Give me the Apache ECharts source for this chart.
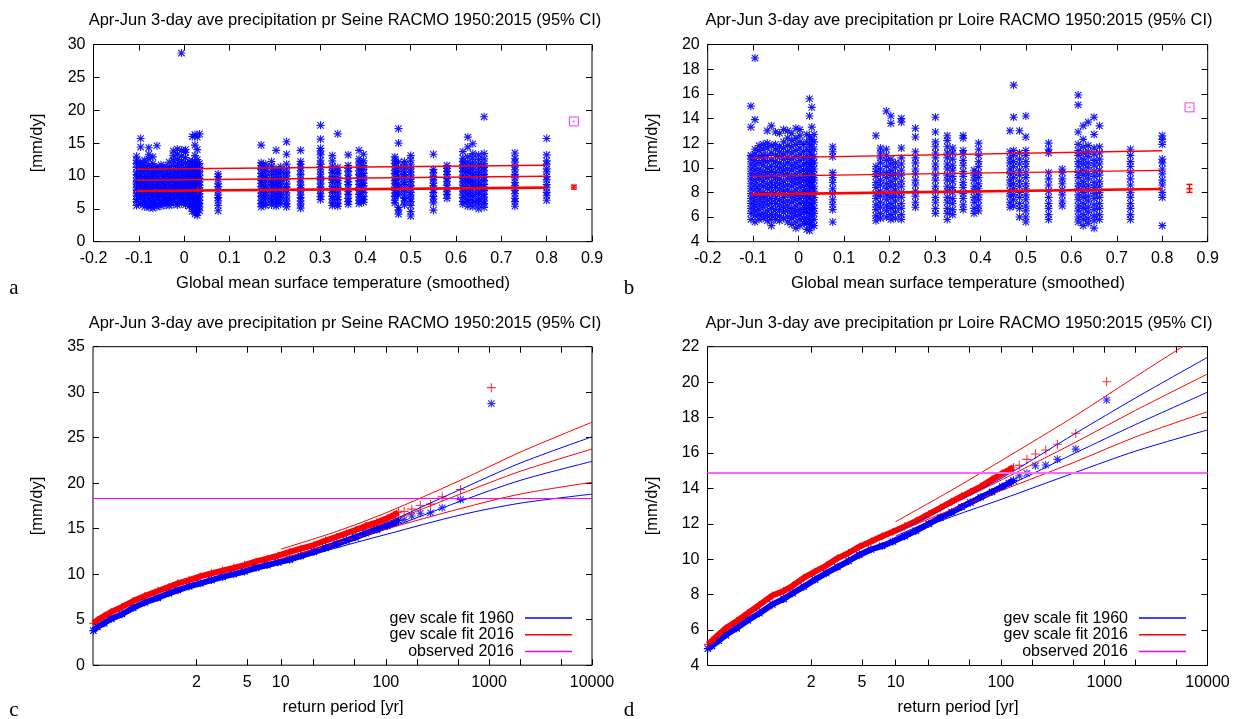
<!DOCTYPE html>
<html><head><meta charset="utf-8">
<script src="https://cdn.jsdelivr.net/npm/echarts@6/dist/echarts.min.js"></script>
<style>html,body{margin:0;padding:0;background:#fff}#chart{width:1233px;height:719px}</style>
</head><body><div id="chart"></div><script>
// ---------- DATA ----------
const titleSeine = 'Apr-Jun 3-day ave precipitation pr Seine RACMO 1950:2015 (95% CI)';
const titleLoire = 'Apr-Jun 3-day ave precipitation pr Loire RACMO 1950:2015 (95% CI)';
// Panel a/b: smoothed GMST of each year (x) and the ensemble values (y)
const gmst = [-0.105,-0.096,-0.087,-0.078,-0.069,-0.060,-0.051,-0.042,-0.033,-0.024,-0.015,-0.006,0.003,0.011,0.018,0.024,0.029,0.034,0.075,0.170,0.180,0.193,0.203,0.213,0.226,0.257,0.301,0.327,0.339,0.362,0.386,0.396,0.465,0.473,0.486,0.500,0.550,0.580,0.615,0.626,0.637,0.650,0.662,0.730,0.800];
const seineVals = [
[5.5,6.1,6.4,7.0,7.3,7.9,8.2,8.8,9.1,9.7,10.2,10.6,11.3,11.9,12.4,13.0],
[5.7,6.0,6.7,7.1,7.6,8.0,8.5,8.9,9.4,9.9,10.3,10.9,11.5,12.1,14.4,15.7],
[5.3,5.9,6.3,6.9,7.4,7.7,8.3,8.6,9.2,9.6,10.1,10.8,11.2,11.8,12.4],
[5.2,5.6,6.2,6.6,7.2,7.5,8.1,8.4,9.0,9.5,9.8,10.4,11.0,11.6,12.6,13.3,14.3],
[5.1,5.6,6.0,6.5,7.0,7.4,7.9,8.3,8.7,9.3,9.8,10.2,10.7,11.3,11.9,12.9],
[5.3,5.8,6.4,6.8,7.2,7.7,8.2,8.6,9.0,9.5,10.0,10.5,11.1,11.4,14.6],
[5.4,5.9,6.3,6.9,7.3,7.8,8.0,8.5,9.1,9.4,10.1,10.6,11.2,11.7],
[5.6,6.1,6.6,7.0,7.5,7.9,8.4,8.8,9.3,9.7,10.2,10.8,11.5],
[5.5,6.0,6.4,6.8,7.3,7.6,8.1,8.7,9.0,9.6,10.0,10.4,11.0,11.4,12.1],
[5.7,6.2,6.5,7.1,7.6,8.0,8.4,8.9,9.3,9.8,10.3,10.9,11.6,12.4,13.1,13.8],
[5.6,6.0,6.6,7.0,7.4,7.9,8.3,8.8,9.2,9.6,10.1,10.6,11.2,11.8,12.5,13.3,14.1],
[5.8,6.3,6.7,7.2,7.6,8.1,8.6,9.0,9.4,9.9,10.5,11.0,11.7,12.3,13.0,13.9,28.7],
[5.6,6.1,6.5,7.0,7.5,7.8,8.3,8.7,9.2,9.7,10.1,10.7,11.3,12.0,12.8,13.6,14.0],
[5.4,5.9,6.3,6.8,7.2,7.7,8.1,8.6,9.0,9.5,10.0,10.5,11.1,11.7,12.2],
[4.6,5.2,5.7,6.2,6.7,7.1,7.6,8.0,8.5,9.0,9.4,9.9,10.4,11.0,11.6,12.3,16.0],
[4.2,4.8,5.4,5.9,6.4,6.9,7.3,7.8,8.2,8.7,9.2,9.6,10.2,10.8,11.4,12.0,13.1,14.7,16.3],
[4.0,4.5,5.1,5.6,6.1,6.6,7.0,7.4,7.9,8.4,8.8,9.3,9.8,10.4,11.1,11.8,12.5,14.0,15.9],
[4.7,5.3,5.8,6.3,6.8,7.3,7.7,8.2,8.6,9.1,9.6,10.1,10.7,11.3,11.9,16.4],
[4.7,5.5,6.2,6.7,7.1,7.8,8.4,8.8,9.5,9.9,10.3],
[5.3,5.8,6.3,6.9,7.4,7.8,8.4,8.9,9.3,9.9,10.4,11.0,11.6,12.0,14.7],
[5.5,6.0,6.6,7.1,7.5,8.1,8.6,9.2,9.7,10.1,10.7,11.2,11.8],
[5.6,6.1,6.5,7.0,7.6,8.2,8.7,9.1,9.6,10.2,10.8,11.5,12.2],
[5.4,5.9,6.4,6.8,7.3,7.9,8.5,8.9,9.4,10.0,10.6,11.1,13.9],
[5.7,6.2,6.7,7.2,7.7,8.3,8.8,9.3,9.8,10.4,10.9,11.4],
[5.3,5.8,6.2,6.8,7.4,7.9,8.3,8.8,9.5,10.0,10.5,11.1,11.8,13.3,15.2],
[5.1,5.7,6.2,6.7,7.1,7.7,8.2,8.6,9.2,9.6,10.2,10.8,11.3,11.8,12.2,13.9],
[6.4,6.9,7.3,7.9,8.3,8.8,9.4,9.8,10.3,10.9,11.4,11.8,12.4,13.2,13.8,14.2,15.6,17.7],
[5.5,5.9,6.5,6.9,7.5,7.9,8.4,9.0,9.4,9.9,10.5,10.9,11.5,12.3,13.1],
[5.4,5.8,6.4,6.8,7.3,7.9,8.3,8.9,9.3,9.8,10.4,10.8,11.3,16.4],
[5.7,6.1,6.6,7.2,7.6,8.1,8.7,9.1,9.6,10.1,10.7,11.2,11.6,13.2],
[5.8,6.3,6.8,7.2,7.8,8.2,8.7,9.3,9.7,10.2,10.8,11.3,12.0,12.6,13.9],
[6.0,6.4,6.9,7.5,7.9,8.5,8.9,9.4,10.0,10.4,11.0,11.6,12.3,13.3],
[5.9,6.3,6.9,7.4,7.8,8.3,8.9,9.3,9.8,10.4,10.8,11.4,11.9,12.4,12.9],
[4.2,4.8,5.2,7.1,7.6,8.3,8.8,9.5,10.0,10.7,11.3,12.1,15.0,17.2],
[5.6,6.2,6.6,7.1,7.7,8.1,8.7,9.1,9.7,10.2,10.6,11.2,11.7,12.2],
[3.9,4.6,5.5,6.1,6.5,7.1,7.5,8.1,8.5,9.1,9.5,10.1,10.6,11.1,11.7,12.4,13.1],
[4.8,5.9,6.5,6.9,7.5,7.9,8.5,8.9,9.5,9.9,10.5,11.0,13.3],
[6.6,7.2,7.6,8.2,8.6,9.2,9.6,10.2,10.7,11.2,11.6],
[5.7,6.1,6.7,7.1,7.7,8.1,8.6,9.2,9.6,10.1,10.7,11.2,11.7,12.2,12.7,13.7],
[5.4,6.0,6.4,7.0,7.4,8.0,8.4,9.0,9.4,9.9,10.5,10.9,11.5,12.1,12.9,14.4,15.9],
[5.3,5.9,6.3,6.9,7.3,7.9,8.4,8.8,9.3,9.9,10.3,10.9,11.4,12.0,12.7,13.4,14.9],
[5.0,5.6,6.1,6.6,7.2,7.6,8.2,8.6,9.1,9.7,10.2,10.6,11.2,11.8,12.5,13.2],
[5.2,5.8,6.2,6.8,7.2,7.8,8.3,8.7,9.3,9.8,10.2,10.8,11.3,11.9,12.6,13.4,19.0],
[5.4,6.1,6.6,7.3,7.8,8.5,9.0,9.7,10.2,10.9,11.4,12.1,12.7,13.5],
[6.3,7.0,7.5,8.2,8.7,9.4,9.9,10.6,11.1,11.8,12.3,13.2,15.7]];
const loireVals = [
[5.8,6.3,6.7,7.1,7.5,7.9,8.3,8.7,9.1,9.5,9.9,10.3,10.7,11.0,13.3,15.0],
[5.6,6.1,6.5,6.9,7.3,7.7,8.2,8.6,9.0,9.4,9.8,10.2,10.6,11.1,11.5,13.9,18.9],
[5.8,6.2,6.6,7.0,7.4,7.8,8.2,8.6,9.1,9.5,9.9,10.4,10.9,11.4,11.8],
[5.9,6.3,6.8,7.2,7.6,8.0,8.5,8.9,9.3,9.7,10.2,10.6,11.0,11.5,11.9],
[5.7,6.1,6.5,7.0,7.4,7.8,8.3,8.7,9.2,9.6,10.0,10.5,11.0,11.6,12.0,13.0],
[5.3,5.8,6.2,6.7,7.1,7.5,8.0,8.4,8.8,9.3,9.7,10.1,10.6,11.2,11.8,13.4],
[5.8,6.2,6.6,7.1,7.5,7.9,8.4,8.8,9.2,9.6,10.1,10.5,11.0,11.5,11.9,12.9],
[5.7,6.1,6.6,7.0,7.4,7.9,8.3,8.7,9.1,9.6,10.0,10.4,10.9,11.3,11.7,12.8],
[5.9,6.4,6.8,7.2,7.6,8.1,8.5,8.9,9.4,9.8,10.2,10.7,11.1,11.6,12.1,13.1],
[5.6,6.0,6.5,6.9,7.3,7.8,8.2,8.6,9.1,9.5,9.9,10.4,10.8,11.3,11.8,12.4,13.0],
[5.4,5.9,6.3,6.7,7.2,7.6,8.0,8.5,8.9,9.3,9.8,10.2,10.7,11.2,11.7,12.2,12.8],
[5.1,5.6,6.1,6.5,6.9,7.4,7.8,8.2,8.7,9.1,9.5,10.0,10.4,10.9,11.4,11.9,12.4,13.2],
[5.3,5.8,6.2,6.6,7.1,7.5,7.9,8.4,8.8,9.2,9.7,10.1,10.6,11.1,11.6,12.1,12.6,13.1],
[5.5,5.9,6.4,6.8,7.2,7.7,8.1,8.5,9.0,9.4,9.8,10.3,10.8,11.3,11.9],
[5.0,5.5,5.9,6.4,6.8,7.3,7.7,8.1,8.6,9.0,9.5,9.9,10.4,10.9,11.5,12.1,12.7],
[4.9,5.4,5.8,6.3,6.7,7.1,7.6,8.0,8.5,8.9,9.3,9.8,10.3,10.8,11.3,11.9,12.5,14.2,15.6],
[5.2,5.7,6.1,6.6,7.0,7.5,7.9,8.3,8.8,9.2,9.7,10.1,10.6,11.1,11.7,12.3,13.3,14.9],
[5.3,5.8,6.3,6.7,7.2,7.6,8.1,8.5,9.0,9.4,9.9,10.4,10.9,11.5,12.1,12.7],
[5.6,6.6,7.0,7.4,7.9,8.3,8.8,9.2,9.6,10.9,11.3,11.7],
[5.7,6.1,6.6,7.0,7.5,7.9,8.4,8.8,9.3,9.7,10.1,12.6],
[5.9,6.3,6.8,7.2,7.7,8.1,8.6,9.0,9.5,9.9,10.4,10.8,11.2,11.6],
[6.0,6.5,6.9,7.4,7.8,8.3,8.7,9.2,9.6,10.1,10.6,11.0,11.5,14.6],
[5.8,6.2,6.7,7.1,7.6,8.0,8.5,8.9,9.4,9.8,10.3,10.7,13.6,14.2],
[5.9,6.4,6.8,7.3,7.7,8.2,8.6,9.1,9.5,10.0,10.4],
[5.8,6.2,6.7,7.1,7.6,8.0,8.5,8.9,9.4,9.8,10.3,10.8,11.6,13.7,14.0],
[6.8,7.2,7.7,8.1,8.6,9.0,9.5,9.9,10.4,10.8,11.3,12.5,13.2],
[6.3,6.7,7.2,7.6,8.1,8.5,9.0,9.4,9.9,10.3,10.8,11.2,11.7,12.1,12.9,14.1],
[5.8,6.3,6.7,7.2,7.6,8.1,8.5,9.0,9.4,9.9,10.3,10.8,11.2,11.7,12.2,12.6],
[6.2,6.6,7.1,7.5,8.0,8.4,8.9,9.3,9.8,10.2,10.7,11.2,11.6],
[6.6,7.0,7.5,7.9,8.4,8.8,9.3,9.7,10.2,10.6,11.1,11.4,12.4,12.6],
[6.3,6.7,7.2,7.6,8.1,8.5,9.0,9.4,9.8],
[6.5,6.9,7.4,7.8,8.3,8.7,9.2,9.6,10.1,10.5,11.0,11.5,12.0],
[6.8,7.2,7.7,8.1,8.6,9.0,9.5,9.9,10.4,10.8,11.3,13.0],
[6.9,7.4,7.8,8.3,8.7,9.2,9.6,10.1,10.5,11.0,11.4,14.1,16.7],
[6.0,6.7,7.1,7.6,8.0,8.5,8.9,9.4,9.8,10.3,10.7,11.2,13.0],
[5.6,6.0,6.5,6.9,7.4,7.8,8.3,8.7,9.2,9.6,10.1,10.5,11.0,11.4,12.5,14.2],
[5.8,6.2,6.7,7.1,7.6,8.1,8.6,9.1,9.6,11.2,11.5,12.0],
[6.9,7.3,7.8,8.2,8.7,9.1,9.6,9.9],
[5.6,6.0,6.5,6.9,7.4,7.8,8.3,8.7,9.2,9.6,10.1,10.5,11.0,11.4,11.9,12.9,15.1,15.9],
[5.3,5.8,6.2,6.7,7.1,7.6,8.0,8.5,8.9,9.4,9.8,10.3,10.7,11.2,11.7,12.3,13.4],
[5.5,5.9,6.4,6.8,7.3,7.7,8.2,8.6,9.1,9.5,10.0,10.4,10.9,11.3,11.8,13.7],
[5.1,5.7,6.1,6.6,7.0,7.5,7.9,8.4,8.8,9.3,9.7,10.2,10.6,11.1,11.6,12.7,14.1],
[5.8,6.2,6.7,7.1,7.6,8.0,8.5,8.9,9.4,9.8,10.3,10.7,11.2,11.7,13.4],
[5.8,6.2,6.7,7.1,7.6,8.0,8.6,9.1,9.6,10.1,10.5,11.0,11.5],
[5.3,7.6,8.0,8.6,9.0,9.5,9.9,10.4,10.7,11.9,12.3,12.6]];
// fitted lines in a/b (x = GMST)
const fitX = [-0.105, 0.80];
const seineLow = [7.72, 8.22], seineMid = [9.35, 9.96], seineUp = [11.02, 11.63];
const loireLow = [7.84, 8.27], loireMid = [9.30, 9.79], loireUp = [10.78, 11.38];
const refPtX = 0.03, seineRefPt = 7.85, loireRefPt = 7.87;
const obsX = 0.86;
const seineObs = 18.3, loireObs = 14.9;
const seineBar = [8.0, 8.3, 8.6], loireBar = [8.0, 8.3, 8.65];
// Panels c/d: x = Gumbel reduced variate of the return period
const bandU = [-1.94,-1.85,-1.7,-1.54,-1.3,-1.05,-0.79,-0.5,-0.25,-0.05,0.2,0.45,0.7,0.95,1.2,1.44,1.7,1.95,2.19,2.45,2.7,2.99,3.25,3.5,3.72,3.92,4.15,4.4,4.63,4.78,4.88];
const seine1960 = [3.8,4.2,4.6,5.1,5.6,6.3,6.9,7.4,7.9,8.25,8.65,9.0,9.35,9.7,10.0,10.3,10.7,11.0,11.3,11.6,12.0,12.45,12.9,13.3,13.7,14.05,14.5,14.9,15.3,15.6,15.9];
const seine2016 = [4.6,4.95,5.4,5.85,6.4,7.05,7.6,8.15,8.6,9.0,9.35,9.75,10.1,10.4,10.7,11.0,11.4,11.7,12.05,12.45,12.8,13.2,13.7,14.1,14.5,14.85,15.3,15.7,16.15,16.5,16.8];
const loire1960 = [4.95,5.1,5.4,5.72,6.1,6.55,6.95,7.45,7.75,8.08,8.45,8.85,9.21,9.55,9.9,10.24,10.55,10.75,11.0,11.3,11.6,12.0,12.35,12.65,12.95,13.2,13.5,13.8,14.1,14.3,14.45];
const loire2016 = [5.2,5.4,5.75,6.1,6.5,6.95,7.42,7.95,8.2,8.5,8.95,9.3,9.64,10.05,10.35,10.71,11.0,11.3,11.55,11.85,12.15,12.55,12.9,13.25,13.55,13.8,14.1,14.5,14.85,15.05,15.2];
const tailU = [5.01,5.18,5.37,5.6,5.86,6.27,6.96];
const seineTail1960 = [16.0,16.4,16.7,16.75,17.3,18.2,28.75];
const seineTail2016 = [16.9,17.15,17.55,17.7,18.5,19.3,30.5];
const loireTail1960 = [14.7,14.85,15.28,15.32,15.64,16.22,18.99];
const loireTail2016 = [15.3,15.64,15.94,16.17,16.49,17.11,20.02];
const fitU = [2.25,3.5,4.63,6.26,7.6,9.21];
const seineFit2016 = [[12.75,14.7,16.8,20.3,23.4,26.7],[12.2,14.0,15.7,18.8,21.3,23.75],[11.7,13.4,15.0,17.2,18.8,20.1]];
const seineFit1960 = [[11.6,13.6,15.7,19.3,22.2,25.1],[11.3,13.2,15.0,18.0,20.3,22.4],[11.1,12.9,14.4,16.5,17.8,18.8]];
const loireFit2016 = [[12.12,13.9,15.6,18.1,20.3,22.9],[11.6,13.1,14.5,16.6,18.4,20.46],[11.5,12.8,13.9,15.5,16.9,18.33]];
const loireFit1960 = [[11.5,13.1,14.6,17.1,19.1,21.4],[11.3,12.7,14.0,16.0,17.6,19.43],[11.2,12.4,13.4,14.9,16.1,17.3]];
const tickT = [2,5,10,20,50,100,200,500,1000,2000,5000,10000];
const labelT = [2,5,10,100,1000,10000];
const legendNames = ['gev scale fit 1960','gev scale fit 2016','observed 2016'];

// ---------- HELPERS ----------
const gum = T => -Math.log(-Math.log(1 - 1 / T));
const FONT = 'Liberation Sans';
const FS = 16;
const BLUE = '#0000ff', RED = '#ff0000', MAG = '#ff00ff';
const ASTER = 'path://M8.6,0L11.4,0L11.4,20L8.6,20Z M0,8.6L20,8.6L20,11.4L0,11.4Z M1,3L3,1L19,17L17,19Z M17,1L19,3L3,19L1,17Z';
const PLUS = 'path://M8.8,0L11.2,0L11.2,20L8.8,20Z M0,8.8L20,8.8L20,11.2L0,11.2Z';
const uMin = -1.948, uMax = gum(10000);

const grids = [
  {left: 93.5, top: 44.5, width: 498.5, height: 197.2},
  {left: 707.7, top: 44.5, width: 500, height: 197.2},
  {left: 93, top: 346.7, width: 499, height: 318.5},
  {left: 707.5, top: 346.7, width: 500, height: 318.8}
].map(g => Object.assign(g, {show: true, borderColor: '#000', borderWidth: 1, backgroundColor: 'transparent'}));

function axis(gridIndex, position, min, max, interval, labels, extra) {
  const a = {
    type: 'value', gridIndex, position, min, max,
    axisLine: {show: false, onZero: false}, splitLine: {show: false},
    axisTick: {show: true, inside: true, length: 6, lineStyle: {color: '#000', width: 1}},
    axisLabel: {show: labels, color: '#000', fontFamily: FONT, fontSize: FS, margin: (position === 'left' ? 8 : 9)}
  };
  if (interval != null) a.interval = interval;
  if (extra) { if (extra.tick) Object.assign(a.axisTick, extra.tick); if (extra.label) Object.assign(a.axisLabel, extra.label); }
  return a;
}
const labFmt = v => { let best = labelT[0], d = 1e9; labelT.forEach(t => { const dd = Math.abs(gum(t) - v); if (dd < d) { d = dd; best = t; } }); return String(best); };
const rpExtra = (lab) => ({tick: {customValues: tickT.map(gum)}, label: lab ? {customValues: labelT.map(gum), formatter: labFmt} : {}});

const xAxes = [
  axis(0, 'bottom', -0.2, 0.9, 0.1, true), axis(0, 'top', -0.2, 0.9, 0.1, false),
  axis(1, 'bottom', -0.2, 0.9, 0.1, true), axis(1, 'top', -0.2, 0.9, 0.1, false),
  axis(2, 'bottom', uMin, uMax, null, true, rpExtra(true)), axis(2, 'top', uMin, uMax, null, false, rpExtra(false)),
  axis(3, 'bottom', uMin, uMax, null, true, rpExtra(true)), axis(3, 'top', uMin, uMax, null, false, rpExtra(false))
];
const yAxes = [
  axis(0, 'left', 0, 30, 5, true), axis(0, 'right', 0, 30, 5, false),
  axis(1, 'left', 4, 20, 2, true), axis(1, 'right', 4, 20, 2, false),
  axis(2, 'left', 0, 35, 5, true), axis(2, 'right', 0, 35, 5, false),
  axis(3, 'left', 4, 22, 2, true), axis(3, 'right', 4, 22, 2, false)
];

const series = [];
function scatterPanel(p, vals, low, mid, up, refPt, obs, bar) {
  const pts = [];
  gmst.forEach((x, i) => vals[i].forEach(v => pts.push([x, v])));
  series.push({type: 'scatter', name: 'pts' + p, xAxisIndex: 2 * p, yAxisIndex: 2 * p, data: pts,
    symbol: ASTER, symbolSize: 8, itemStyle: {color: BLUE, opacity: 0.9}, silent: true});
  [[low, 2.6], [mid, 1.3], [up, 1.3]].forEach(([arr, w]) => series.push({type: 'line', name: 'fit' + p,
    xAxisIndex: 2 * p, yAxisIndex: 2 * p, data: fitX.map((x, i) => [x, arr[i]]), symbol: 'none',
    lineStyle: {color: RED, width: w}, silent: true}));
  series.push({type: 'scatter', name: 'ref' + p, xAxisIndex: 2 * p, yAxisIndex: 2 * p, data: [[refPtX, refPt]],
    symbol: PLUS, symbolSize: 9, itemStyle: {color: RED}, silent: true});
  series.push({type: 'custom', name: 'bar' + p, xAxisIndex: 2 * p, yAxisIndex: 2 * p, data: [[obsX, bar[0], bar[1], bar[2]]],
    silent: true,
    renderItem: (params, api) => {
      const x = api.value(0);
      const lo = api.coord([x, api.value(1)]), mi = api.coord([x, api.value(2)]), hi = api.coord([x, api.value(3)]);
      const st = {stroke: RED, lineWidth: 1.5};
      return {type: 'group', children: [
        {type: 'line', shape: {x1: lo[0], y1: lo[1], x2: hi[0], y2: hi[1]}, style: st},
        {type: 'line', shape: {x1: lo[0] - 3, y1: lo[1], x2: lo[0] + 3, y2: lo[1]}, style: st},
        {type: 'line', shape: {x1: hi[0] - 3, y1: hi[1], x2: hi[0] + 3, y2: hi[1]}, style: st},
        {type: 'line', shape: {x1: mi[0] - 3, y1: mi[1], x2: mi[0] + 3, y2: mi[1]}, style: st}
      ]};
    }});
  series.push({type: 'scatter', name: 'obs' + p, xAxisIndex: 2 * p, yAxisIndex: 2 * p, data: [[obsX, obs]],
    symbol: 'rect', symbolSize: 9, itemStyle: {color: '#fff', borderColor: MAG, borderWidth: 1}, silent: true});
  series.push({type: 'scatter', name: 'obsdot' + p, xAxisIndex: 2 * p, yAxisIndex: 2 * p, data: [[obsX, obs]],
    symbol: 'rect', symbolSize: 1.5, itemStyle: {color: MAG}, silent: true});
}
scatterPanel(0, seineVals, seineLow, seineMid, seineUp, seineRefPt, seineObs, seineBar);
scatterPanel(1, loireVals, loireLow, loireMid, loireUp, loireRefPt, loireObs, loireBar);

function rpPanel(p, b1960, b2016, t1960, t2016, f1960, f2016, obs, obsWidth, obsColor) {
  const xi = 2 * p, yi = 2 * p;
  series.push({type: 'line', name: 'band1960_' + p, xAxisIndex: xi, yAxisIndex: yi,
    data: bandU.map((u, i) => [u, b1960[i]]), symbol: ASTER, symbolSize: 8, showSymbol: true,
    itemStyle: {color: BLUE}, lineStyle: {color: BLUE, width: 6}, silent: true});
  series.push({type: 'line', name: 'band2016_' + p, xAxisIndex: xi, yAxisIndex: yi,
    data: bandU.map((u, i) => [u, b2016[i]]), symbol: PLUS, symbolSize: 8, showSymbol: true,
    itemStyle: {color: RED}, lineStyle: {color: RED, width: 6}, silent: true});
  series.push({type: 'scatter', name: 'tail1960_' + p, xAxisIndex: xi, yAxisIndex: yi,
    data: tailU.map((u, i) => [u, t1960[i]]), symbol: ASTER, symbolSize: 8, itemStyle: {color: BLUE}, silent: true});
  series.push({type: 'scatter', name: 'tail2016_' + p, xAxisIndex: xi, yAxisIndex: yi,
    data: tailU.map((u, i) => [u, t2016[i]]), symbol: PLUS, symbolSize: 9, itemStyle: {color: RED}, silent: true});
  const fitLine = (arr, nm, col) => series.push({type: 'line', name: nm, xAxisIndex: xi, yAxisIndex: yi,
    data: fitU.map((u, i) => [u, arr[i]]), symbol: 'none', smooth: 0.3, color: col,
    itemStyle: {color: col}, lineStyle: {color: col, width: 1}, silent: true});
  f1960.forEach(arr => fitLine(arr, legendNames[0], BLUE));
  f2016.forEach(arr => fitLine(arr, legendNames[1], RED));
  series.push({type: 'line', name: legendNames[2], xAxisIndex: xi, yAxisIndex: yi, data: [], color: obsColor,
    itemStyle: {color: obsColor}, silent: true,
    markLine: {silent: true, symbol: 'none', label: {show: false}, animation: false,
      lineStyle: {color: obsColor, width: obsWidth, type: 'solid'}, data: [{yAxis: obs}]}});
}
rpPanel(2, seine1960, seine2016, seineTail1960, seineTail2016, seineFit1960, seineFit2016, seineObs, 1, MAG);
rpPanel(3, loire1960, loire2016, loireTail1960, loireTail2016, loireFit1960, loireFit2016, loireObs, 2, '#ff66ff');

function legendAt(right, top) {
  return {show: true, orient: 'vertical', right, top, align: 'right', itemGap: 0.5, itemWidth: 47, itemHeight: 1.5,
    icon: 'rect', selectedMode: false, data: legendNames,
    textStyle: {color: '#000', fontFamily: FONT, fontSize: FS, lineHeight: 16.2, padding: [0, 6, 0, 0]}};
}

function txt(text, x, y, opts) {
  return Object.assign({type: 'text', x, y, silent: true,
    style: Object.assign({text, fill: '#000', fontFamily: FONT, fontSize: 16.5, textAlign: 'center', textVerticalAlign: 'middle'}, (opts && opts.style) || {})},
    opts && opts.rotation ? {rotation: opts.rotation} : {});
}
const serif = {style: {fontFamily: 'Liberation Serif', fontSize: 21}};
const graphic = [
  txt(titleSeine, 345, 20), txt(titleLoire, 959, 20), txt(titleSeine, 345, 323), txt(titleLoire, 959, 323),
  txt('Global mean surface temperature (smoothed)', 343, 283), txt('Global mean surface temperature (smoothed)', 958, 283),
  txt('return period [yr]', 343, 707), txt('return period [yr]', 958, 707),
  txt('[mm/dy]', 37, 143, {rotation: Math.PI / 2}), txt('[mm/dy]', 652, 143, {rotation: Math.PI / 2}),
  txt('[mm/dy]', 37, 506, {rotation: Math.PI / 2}), txt('[mm/dy]', 652, 506, {rotation: Math.PI / 2}),
  txt('a', 14, 288, serif), txt('b', 629, 288, serif), txt('c', 14, 710, serif), txt('d', 629, 710, serif)
];

const chart = echarts.init(document.getElementById('chart'), null, {renderer: 'canvas'});
chart.setOption({
  animation: false, backgroundColor: '#fff',
  grid: grids, xAxis: xAxes, yAxis: yAxes, series,
  legend: [legendAt(1233 - 577, 605), legendAt(1233 - 1191, 605)],
  graphic
});
</script></body></html>
